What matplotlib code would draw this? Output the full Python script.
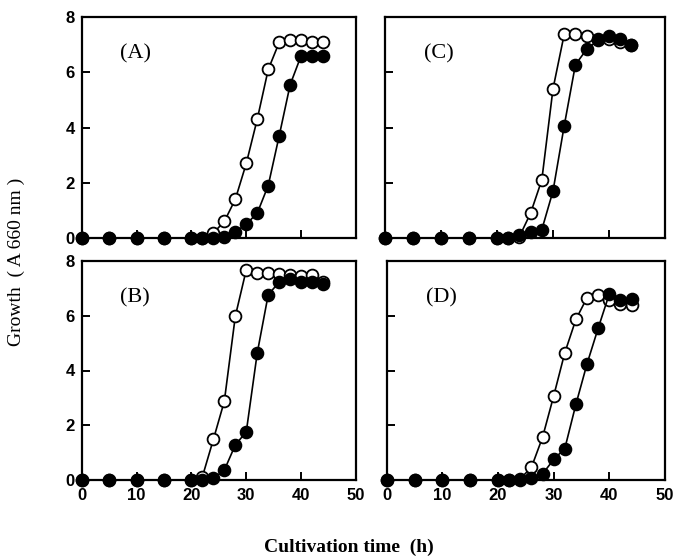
import numpy as np
import matplotlib.pyplot as plt

# time points (h)
t = [0, 5, 10, 15, 20, 22, 24, 26, 28, 30, 32, 34, 36, 38, 40, 42, 44]

# panel A
a_open = [0, 0, 0, 0, 0, 0, 0.18, 0.6, 1.4, 2.7, 4.3, 6.1, 7.08, 7.18, 7.18, 7.1, 7.1]
a_fill = [0, 0, 0, 0, 0, 0, 0, 0.05, 0.22, 0.5, 0.9, 1.9, 3.7, 5.55, 6.6, 6.6, 6.6]

# panel B
b_open = [0, 0, 0, 0, 0, 0.12, 1.48, 2.88, 5.98, 7.68, 7.56, 7.56, 7.54, 7.5, 7.45, 7.48, 7.25]
b_fill = [0, 0, 0, 0, 0, 0, 0.06, 0.36, 1.28, 1.76, 4.64, 6.77, 7.23, 7.36, 7.23, 7.23, 7.17]

# panel C
c_open = [0, 0, 0, 0, 0, 0, 0.05, 0.9, 2.1, 5.4, 7.37, 7.37, 7.3, 7.2, 7.2, 7.1, 7.0]
c_fill = [0, 0, 0, 0, 0, 0, 0.1, 0.2, 0.3, 1.7, 4.06, 6.27, 6.83, 7.15, 7.3, 7.2, 7.0]

# panel D
d_open = [0, 0, 0, 0, 0, 0, 0.05, 0.46, 1.56, 3.07, 4.65, 5.87, 6.66, 6.77, 6.56, 6.44, 6.38]
d_fill = [0, 0, 0, 0, 0, 0, 0, 0.06, 0.22, 0.75, 1.15, 2.77, 4.25, 5.55, 6.8, 6.56, 6.62]

panels = [
    ('(A)', a_open, a_fill, [81.7, 17, 356, 238]),
    ('(C)', c_open, c_fill, [385, 17, 665, 238]),
    ('(B)', b_open, b_fill, [81.7, 261, 356, 480]),
    ('(D)', d_open, d_fill, [386.7, 261, 665, 480]),
]

W, H = 673, 557
fig = plt.figure(figsize=(W / 100, H / 100), dpi=100)

for i, (lab, yo, yf, box) in enumerate(panels):
    x0, y0, x1, y1 = box
    ax = fig.add_axes([x0 / W, 1 - y1 / H, (x1 - x0) / W, (y1 - y0) / H])
    ax.plot(t, yo, '-o', color='black', mfc='white', mec='black',
            ms=8.5, mew=1.3, lw=1.2, clip_on=False, zorder=3)
    ax.plot(t, yf, '-o', color='black', mfc='black', mec='black',
            ms=8.5, mew=1.3, lw=1.2, clip_on=False, zorder=4)
    ax.set_xlim(0, 50)
    ax.set_ylim(0, 8)
    ax.set_xticks([0, 10, 20, 30, 40, 50])
    ax.set_yticks([0, 2, 4, 6, 8])
    ax.tick_params(direction='in', length=6, width=1.4, labelsize=12)
    ax.tick_params(axis='x', pad=6)
    ax.tick_params(axis='y', pad=5)
    for lbl in ax.get_xticklabels() + ax.get_yticklabels():
        lbl.set_fontweight('bold')
        lbl.set_family('Liberation Sans')
    if i in (0, 1):
        ax.tick_params(labelbottom=False)
    if i in (1, 3):
        ax.tick_params(labelleft=False)
    for s in ax.spines.values():
        s.set_linewidth(1.6)
    ax.text(7, 6.65, lab, fontsize=16, family='Liberation Serif', va='center')

fig.text(0.025, 0.53, 'Growth  ( A 660 nm )', rotation=90, ha='center', va='center',
         fontsize=14, family='Liberation Serif')
fig.text(0.518, 0.018, 'Cultivation time  (h)', ha='center', va='center',
         fontsize=14, family='Liberation Serif', fontweight='bold')

fig.savefig('out.png', dpi=100)
